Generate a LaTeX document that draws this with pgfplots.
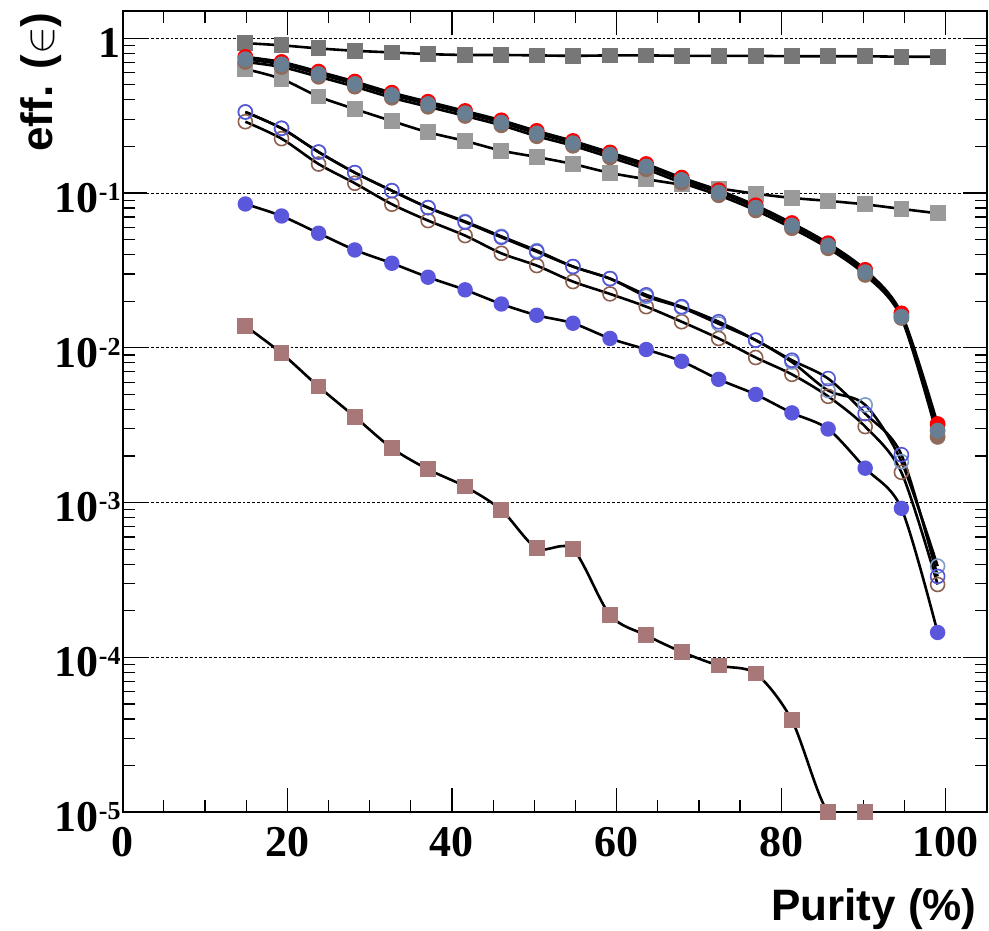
\documentclass[border=0pt]{standalone}
\usepackage{pgfplots}
\usepackage{pgfplotstable}
\pgfplotsset{compat=1.18}
\usepackage{fontspec}
\setmainfont{Liberation Serif}
\newfontfamily\helv{Liberation Sans}
\newcommand{\pw}[1]{10\raisebox{6bp}{\fontsize{13bp}{13bp}\selectfont #1}}
\definecolor{dgrey}{HTML}{777777}
\definecolor{lgrey}{HTML}{9A9A9A}
\definecolor{steel}{HTML}{687F93}
\definecolor{cred}{HTML}{FF0000}
\definecolor{cbrown}{HTML}{8E6B5C}
\definecolor{cblue}{HTML}{5B57DC}
\definecolor{oblue}{HTML}{5555D8}
\definecolor{lblue}{HTML}{7E9CC8}
\definecolor{obrown}{HTML}{8C5F4E}
\definecolor{rose}{HTML}{A87878}
\pgfplotstableread{
x     dsq    lsq    red     brn     stl     ob       lb       obr      bf       rose
14.9  0.93   0.633  0.758   0.703   0.732   0.334    0.334    0.289    0.0850   0.01385
19.3  0.90   0.546  0.703   0.652   0.679   0.262    0.262    0.2246   0.0711   0.00923
23.8  0.86   0.420  0.609   0.564   0.588   0.184    0.184    0.154    0.0550   0.00562
28.2  0.83   0.349  0.525   0.487   0.507   0.1355   0.1355   0.1157   0.0429   0.00359
32.7  0.81   0.292  0.445   0.413   0.430   0.1036   0.1036   0.0847   0.0352   0.00225
37.1  0.79   0.247  0.389   0.361   0.376   0.0805   0.0805   0.0664   0.0286   0.00164
41.6  0.78   0.217  0.339   0.315   0.328   0.0648   0.0655   0.0531   0.0237   0.00127
46.0  0.78   0.188  0.295   0.274   0.285   0.0518   0.0525   0.0408   0.0192   0.000897
50.3  0.775  0.171  0.252   0.233   0.243   0.0418   0.0425   0.0340   0.01624  0.000507
54.7  0.77   0.154  0.217   0.202   0.210   0.0335   0.0335   0.0268   0.01442  0.000500
59.2  0.775  0.135  0.183   0.170   0.177   0.0280   0.0280   0.0223   0.01150  0.000188
63.6  0.775  0.123  0.154   0.1426  0.1485  0.0220   0.0215   0.01845  0.00976  0.000139
67.9  0.77   0.1135 0.1258  0.1166  0.1215  0.01845  0.0182   0.01475  0.00819  0.0001087
72.4  0.77   0.107  0.1043  0.0968  0.1008  0.01475  0.0143   0.0115   0.00626  0.0000887
76.9  0.77   0.099  0.0833  0.0773  0.0805  0.01122  0.0112   0.00866  0.00500  0.0000787
81.3  0.765  0.093  0.064   0.0593  0.0618  0.00832  0.0081   0.00674  0.00380  0.0000392
85.7  0.765  0.089  0.0474  0.044   0.0458  0.00633  0.0053   0.00486  0.00299  0.00001
90.2  0.765  0.0845 0.0319  0.0296  0.0308  0.00376  0.00428  0.00310  0.00167  0.00001
94.6  0.76   0.079  0.0167  0.0156  0.0159  0.00204  0.00184  0.00157  0.000919 nan
99.0  0.76   0.074  0.00322 0.00266 0.00292 0.000334 0.000389 0.000296 0.000145 nan
}\data
\pgfplotsset{
  ln/.style={black, line width=1.3bp, smooth},
}
\begin{document}
\begin{tikzpicture}
\begin{axis}[
  name=ax,
  scale only axis, width=432.2bp, height=400.65bp,
  xmin=0, xmax=105, ymode=log, ymin=1e-5, ymax=1.5,
  axis line style={line width=1bp},
  xtick={0,20,...,100}, xticklabels={0,20,40,60,80,100},
  minor x tick num=3,
  ytick={1e-5,1e-4,1e-3,1e-2,1e-1,1},
  yticklabels={\pw{-5},\pw{-4},\pw{-3},\pw{-2},\pw{-1},1},
  tick align=inside, tick pos=both,
  major tick length=12bp, minor tick length=6bp,
  every tick/.style={black, line width=0.6bp},
  ymajorgrids,
  major grid style={black, line width=0.5bp, dash pattern=on 1.4bp off 1bp},
  tick label style={font=\fontsize{22bp}{22bp}\selectfont\bfseries},
  xticklabel style={yshift=-4bp},
  yticklabel style={xshift=2.5bp, yshift=-2.4bp},
]
\addplot[ln, mark=square*, mark size=3.3bp, mark options={solid, draw=lgrey, fill=lgrey}] table[x=x,y=lsq]{\data};
\addplot[ln, mark=square*, mark size=3.3bp, mark options={solid, draw=dgrey, fill=dgrey}] table[x=x,y=dsq]{\data};
\addplot[ln, mark=*, mark size=3.3bp, mark options={solid, draw=cred, fill=cred}] table[x=x,y=red]{\data};
\addplot[ln, mark=*, mark size=3.3bp, mark options={solid, draw=cbrown, fill=cbrown}] table[x=x,y=brn]{\data};
\addplot[ln, mark=*, mark size=3.3bp, mark options={solid, draw=steel, fill=steel}] table[x=x,y=stl]{\data};
\addplot[ln, mark=o, mark size=3.5bp, mark options={solid, draw=obrown, line width=0.8bp}] table[x=x,y=obr]{\data};
\addplot[ln, mark=o, mark size=3.5bp, mark options={solid, draw=lblue, line width=0.8bp}] table[x=x,y=lb]{\data};
\addplot[ln, mark=o, mark size=3.5bp, mark options={solid, draw=oblue, line width=0.8bp}] table[x=x,y=ob]{\data};
\addplot[ln, mark=*, mark size=3.2bp, mark options={solid, draw=cblue, fill=cblue}] table[x=x,y=bf]{\data};
\addplot[ln, mark=square*, mark size=3.3bp, mark options={solid, draw=rose, fill=rose}] table[x=x,y=rose]{\data};
\end{axis}
\node[anchor=base east, inner sep=0, font=\helv\bfseries\fontsize{22bp}{22bp}\selectfont]
  at ([xshift=-5bp, yshift=-54.3bp]ax.south east) {Purity (\%)};
\node[anchor=base east, rotate=90, inner sep=0, font=\helv\bfseries\fontsize{22bp}{22bp}\selectfont]
  at ([xshift=-34.85bp, yshift=-0.5bp]ax.north west) {eff. ($\in$)};
\pgfresetboundingbox
\path ([xshift=-61.35bp,yshift=-59.35bp]ax.south west) rectangle ([xshift=1bp,yshift=5.5bp]ax.north east);
\end{tikzpicture}
\end{document}
